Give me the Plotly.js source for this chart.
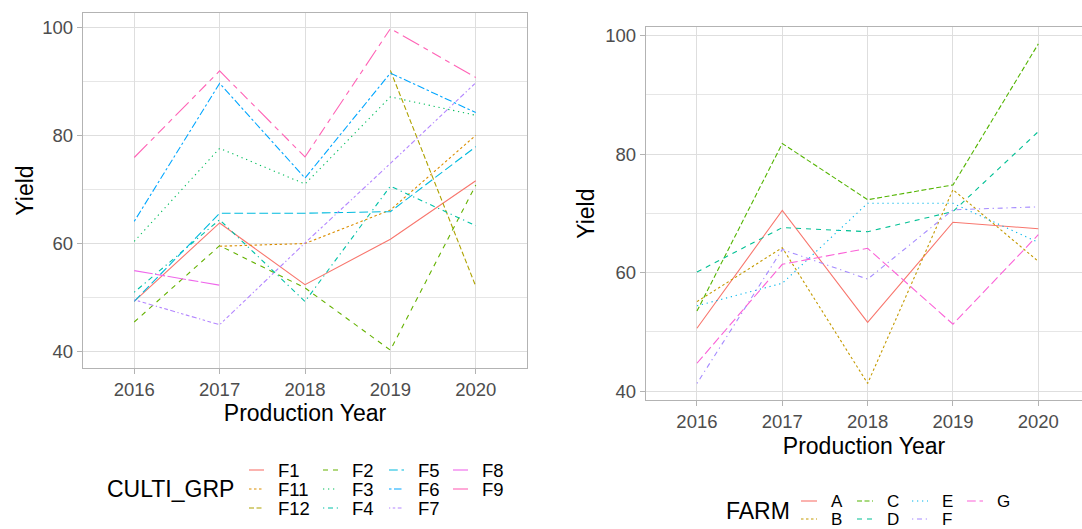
<!DOCTYPE html>
<html>
<head>
<meta charset="utf-8">
<script src="https://cdn.plot.ly/plotly-3.0.1.min.js"></script>
<style>html,body{margin:0;padding:0;background:#fff;}#chart{width:1082px;height:529px;}</style>
</head>
<body>
<div id="chart"></div>
<script>
// ---------- data ----------
const years = [2016, 2017, 2018, 2019, 2020];

const cultiGroups = ['F1', 'F11', 'F12', 'F2', 'F3', 'F4', 'F5', 'F6', 'F7', 'F8', 'F9'];
const yieldF1  = [49.3, 63.8, 52.4, 60.8, 71.6];
const yieldF11 = [null, 59.5, 60.0, 66.2, 80.0];
const yieldF12 = [null, null, null, 92.0, 52.1];
const yieldF2  = [45.5, 59.6, 51.8, 40.3, 70.8];
const yieldF3  = [60.4, 77.6, 71.0, 87.1, 83.7];
const yieldF4  = [51.0, 64.4, 49.3, 70.6, 63.3];
const yieldF5  = [49.3, 65.6, 65.6, 65.9, 77.9];
const yieldF6  = [64.1, 89.6, 72.1, 91.5, 84.2];
const yieldF7  = [49.6, 45.0, 60.1, 74.8, 89.7];
const yieldF8  = [55.0, 52.3, null, null, null];
const yieldF9  = [75.9, 91.9, 76.0, 99.7, 90.7];

const farms = ['A', 'B', 'C', 'D', 'E', 'F', 'G'];
const yieldA = [50.6, 70.5, 51.6, 68.5, 67.4];
const yieldB = [55.1, 64.2, 41.3, 74.0, 61.9];
const yieldC = [53.5, 81.8, 72.3, 74.8, 98.6];
const yieldD = [60.1, 67.6, 66.9, 70.3, 83.8];
const yieldE = [54.4, 58.2, 71.7, 71.7, 65.1];
const yieldF = [41.3, 63.9, 58.9, 70.6, 71.1];
const yieldG = [44.7, 61.4, 64.1, 51.3, 66.4];

const cultiValues = [yieldF1, yieldF11, yieldF12, yieldF2, yieldF3, yieldF4, yieldF5, yieldF6, yieldF7, yieldF8, yieldF9];
const farmValues = [yieldA, yieldB, yieldC, yieldD, yieldE, yieldF, yieldG];

// ---------- styles ----------
const cultiColors = ['#F8766D', '#DB8E00', '#AEA200', '#64B200', '#00BD5C', '#00C1A7', '#00BADE', '#00A6FF', '#B385FF', '#EF67EB', '#FF63B6'];
const farmColors = ['#F8766D', '#C49A00', '#53B400', '#00C094', '#00B6EB', '#A58AFF', '#FB61D7'];
const ggLinetypes = ['solid', '22', '42', '44', '13', '1343', '73', '2262', '12223242', 'F282', 'F4448444'];
const U = 1.25;
function dashOf(lt) {
  if (lt === 'solid') return 'solid';
  return lt.split('').map(c => (parseInt(c, 16) * U).toFixed(2) + 'px').join(',');
}

const W = 1082, H = 529;
const px = x => x / W;
const py = y => 1 - y / H;

const FONT = 'Liberation Sans, Arial, sans-serif';
const traces = [];
cultiGroups.forEach((g, i) => {
  traces.push({
    x: years, y: cultiValues[i], name: g, type: 'scatter', mode: 'lines',
    xaxis: 'x', yaxis: 'y', showlegend: false, connectgaps: false,
    line: {color: cultiColors[i], width: 1.1, dash: dashOf(ggLinetypes[i])}
  });
});
farms.forEach((f, i) => {
  traces.push({
    x: years, y: farmValues[i], name: f, type: 'scatter', mode: 'lines',
    xaxis: 'x2', yaxis: 'y2', showlegend: false,
    line: {color: farmColors[i], width: 1.1, dash: dashOf(ggLinetypes[i])}
  });
});

const tickFont = {family: FONT, size: 18.5, color: '#4D4D4D'};
const titleFont = {family: FONT, size: 23, color: '#000'};
function xAxis(domain, range, anchor, standoff) {
  return {
    domain: domain, range: range, anchor: anchor,
    tickvals: years, ticktext: years.map(String),
    showgrid: true, gridcolor: '#DEDEDE', gridwidth: 1,
    zeroline: false, showline: true, mirror: true, linecolor: '#B3B3B3', linewidth: 1.2,
    ticks: 'outside', ticklen: 5, tickcolor: '#B3B3B3', tickwidth: 1,
    tickfont: tickFont,
    title: {text: 'Production Year', font: titleFont, standoff: standoff}
  };
}
function yAxis(domain, range, anchor, standoff) {
  return {
    domain: domain, range: range, anchor: anchor,
    tickvals: [40, 60, 80, 100],
    showgrid: true, gridcolor: '#DEDEDE', gridwidth: 1,
    minor: {tickvals: [50, 70, 90], showgrid: true, gridcolor: '#E6E6E6', gridwidth: 1, ticks: ''},
    zeroline: false, showline: true, mirror: true, linecolor: '#B3B3B3', linewidth: 1.2,
    ticks: 'outside', ticklen: 5, tickcolor: '#B3B3B3', tickwidth: 1,
    tickfont: tickFont,
    title: {text: 'Yield', font: titleFont, standoff: standoff}
  };
}

// ---------- legends (drawn from category arrays) ----------
const shapes = [];
const annotations = [];
function buildLegend(cats, colors, title, titleX, titleY, colX, keyW, textDX, rowY, nRows, fs) {
  annotations.push({xref: 'paper', yref: 'paper', x: px(titleX), y: py(titleY), xanchor: 'left', yanchor: 'middle',
    text: title, showarrow: false, font: {family: FONT, size: 23, color: '#000'}});
  cats.forEach((c, i) => {
    const col = Math.floor(i / nRows), row = i % nRows;
    const x0 = colX[col], y = rowY[row];
    shapes.push({type: 'line', xref: 'paper', yref: 'paper', x0: px(x0), x1: px(x0 + keyW), y0: py(y), y1: py(y),
      line: {color: colors[i], width: 1.1, dash: dashOf(ggLinetypes[i])}});
    annotations.push({xref: 'paper', yref: 'paper', x: px(x0 + textDX), y: py(y), xanchor: 'left', yanchor: 'middle',
      text: c, showarrow: false, borderpad: 0, font: {family: FONT, size: fs, color: '#000'}});
  });
}
buildLegend(cultiGroups, cultiColors, 'CULTI_GRP', 105, 489, [249, 323, 389, 453], 15, 28, [470, 489, 508], 3, 18.5);
buildLegend(farms, farmColors, 'FARM', 724, 511, [801, 857, 912, 967], 16, 29, [501, 519], 2, 17);

const layout = {
  width: W, height: H,
  margin: {l: 0, r: 0, t: 0, b: 0},
  paper_bgcolor: '#fff', plot_bgcolor: '#fff',
  showlegend: false,
  xaxis: xAxis([px(83), px(527)], [2015.4, 2020.6], 'y', 5),
  yaxis: yAxis([py(368), py(13)], [37.0, 102.6], 'x', 2),
  xaxis2: xAxis([px(646), 1], [2015.403, 2020.512], 'y2', 6),
  yaxis2: yAxis([py(400), py(27.3)], [38.5, 101.4], 'x2', 4),
  shapes: shapes,
  annotations: annotations
};

Plotly.newPlot('chart', traces, layout, {staticPlot: true, displayModeBar: false});
</script>
</body>
</html>
